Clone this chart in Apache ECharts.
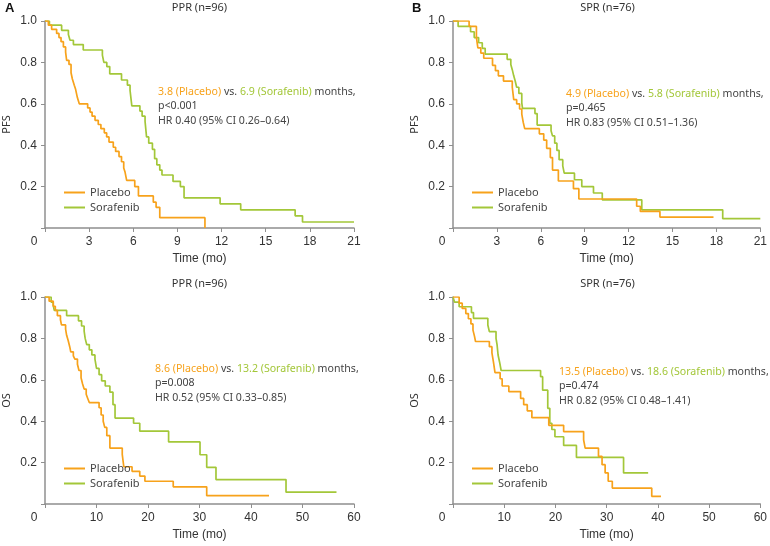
<!DOCTYPE html>
<html>
<head>
<meta charset="utf-8">
<script src="https://cdn.jsdelivr.net/npm/echarts@6/dist/echarts.min.js"></script>
<style>
  html, body { margin: 0; padding: 0; background: #fff; }
  #chart { width: 770px; height: 546px; }
</style>
</head>
<body>
<div id="chart"></div>
<script>
// ---------- Data ----------
// Panel A top: PFS, PPR (n=96)
const pfsPprPlaceboT = [0, 0.23, 0.45, 0.79, 0.95, 1.09, 1.25, 1.40, 1.47, 1.63, 1.77, 1.86, 1.99, 2.08, 2.2, 2.33, 2.9, 3.06, 3.2, 3.4, 3.62, 3.8, 4.03, 4.19, 4.35, 4.64, 4.8, 5.03, 5.2, 5.35, 5.44, 5.55, 6.1, 6.35, 7.36, 7.55, 7.8, 10.87];
const pfsPprPlaceboS = [1, 0.98, 0.96, 0.94, 0.92, 0.90, 0.875, 0.85, 0.81, 0.79, 0.75, 0.72, 0.69, 0.67, 0.63, 0.60, 0.58, 0.56, 0.54, 0.52, 0.50, 0.48, 0.46, 0.44, 0.415, 0.39, 0.37, 0.345, 0.32, 0.29, 0.27, 0.23, 0.20, 0.155, 0.125, 0.10, 0.05, 0];
const pfsPprSorafenibT = [0, 0.3, 1.13, 1.59, 1.7, 1.93, 2.6, 3.9, 4.0, 4.2, 4.4, 5.2, 5.6, 5.78, 5.9, 6.45, 6.6, 6.8, 6.9, 7.05, 7.3, 7.45, 7.6, 7.8, 7.95, 8.7, 9.2, 9.45, 11.9, 13.3, 17.0, 17.5, 21];
const pfsPprSorafenibS = [1, 0.98, 0.955, 0.935, 0.907, 0.886, 0.86, 0.835, 0.80, 0.78, 0.745, 0.715, 0.69, 0.665, 0.59, 0.565, 0.54, 0.515, 0.44, 0.41, 0.38, 0.335, 0.305, 0.28, 0.256, 0.225, 0.2, 0.146, 0.117, 0.088, 0.059, 0.029, 0.029];

// Panel B top: PFS, SPR (n=76)
const pfsSprPlaceboT = [0, 1.1, 1.6, 1.7, 1.9, 2.1, 2.7, 2.9, 3.1, 3.45, 4.05, 4.15, 4.35, 4.55, 4.7, 4.8, 4.9, 5.9, 6.2, 6.4, 6.65, 6.8, 7.2, 8.23, 8.6, 12.55, 12.8, 14.14, 17.8];
const pfsSprPlaceboS = [1, 0.974, 0.92, 0.87, 0.845, 0.82, 0.786, 0.76, 0.735, 0.71, 0.68, 0.62, 0.60, 0.575, 0.55, 0.51, 0.48, 0.455, 0.425, 0.385, 0.34, 0.28, 0.227, 0.19, 0.14, 0.105, 0.08, 0.053, 0.053];
const pfsSprSorafenibT = [0, 0.35, 1.2, 1.45, 1.75, 2.0, 2.2, 3.7, 3.95, 4.05, 4.15, 4.25, 4.35, 4.5, 4.7, 4.75, 5.6, 5.75, 6.7, 6.8, 6.95, 7.1, 7.25, 7.5, 7.6, 8.3, 8.8, 9.6, 10.2, 12.9, 18.43, 21];
const pfsSprSorafenibS = [1, 0.974, 0.948, 0.92, 0.895, 0.868, 0.84, 0.815, 0.79, 0.765, 0.735, 0.71, 0.68, 0.65, 0.605, 0.578, 0.553, 0.497, 0.47, 0.445, 0.41, 0.375, 0.33, 0.30, 0.265, 0.233, 0.2, 0.169, 0.136, 0.088, 0.045, 0.045];

// Panel A bottom: OS, PPR (n=96)
const osPprPlaceboT = [0, 0.8, 1.6, 2.0, 2.4, 3.0, 3.2, 4.0, 4.2, 4.5, 4.8, 5.0, 5.5, 5.8, 6.3, 6.6, 7.0, 7.3, 7.6, 8.0, 8.3, 8.6, 10.5, 10.9, 11.3, 11.6, 12.0, 12.6, 15.0, 15.3, 16.9, 18.4, 19.4, 24.9, 31.4, 43.5];
const osPprPlaceboS = [1, 0.98, 0.955, 0.935, 0.91, 0.89, 0.865, 0.845, 0.815, 0.79, 0.76, 0.735, 0.715, 0.70, 0.675, 0.645, 0.61, 0.58, 0.555, 0.53, 0.51, 0.49, 0.465, 0.43, 0.40, 0.37, 0.33, 0.27, 0.24, 0.18, 0.158, 0.135, 0.11, 0.083, 0.04, 0.04];
const osPprSorafenibT = [0, 1.2, 1.6, 1.8, 4.2, 6.5, 7.1, 7.6, 7.8, 8.1, 8.6, 9.1, 9.7, 10.0, 10.5, 11.0, 11.7, 12.6, 13.2, 13.6, 17.2, 18.4, 24.0, 30.1, 31.4, 33.2, 46.8, 56.6];
const osPprSorafenibS = [1, 0.975, 0.96, 0.935, 0.91, 0.885, 0.86, 0.835, 0.80, 0.77, 0.745, 0.72, 0.70, 0.655, 0.625, 0.595, 0.57, 0.54, 0.48, 0.415, 0.39, 0.352, 0.30, 0.238, 0.177, 0.118, 0.057, 0.057];

// Panel B bottom: OS, SPR (n=76)
const osSprPlaceboT = [0, 1.2, 1.8, 2.5, 3.0, 3.5, 3.9, 4.2, 4.4, 7.1, 7.6, 7.9, 8.2, 9.2, 9.6, 10.9, 13.2, 13.8, 14.5, 15.4, 18.7, 21.6, 25.5, 25.8, 28.4, 29.1, 29.7, 30.3, 31.1, 38.8, 40.6];
const osSprPlaceboS = [1, 0.97, 0.945, 0.92, 0.895, 0.87, 0.84, 0.81, 0.785, 0.76, 0.73, 0.685, 0.635, 0.605, 0.57, 0.543, 0.51, 0.48, 0.45, 0.417, 0.38, 0.35, 0.31, 0.27, 0.23, 0.19, 0.15, 0.11, 0.077, 0.037, 0.037];
const osSprSorafenibT = [0, 0.3, 1.2, 3.6, 4.0, 6.8, 7.1, 8.4, 8.6, 8.8, 9.1, 9.4, 17.1, 17.5, 18.5, 18.9, 19.3, 19.9, 21.6, 24.1, 33.3, 38.1];
const osSprSorafenibS = [1, 0.975, 0.953, 0.925, 0.897, 0.865, 0.833, 0.80, 0.77, 0.72, 0.685, 0.645, 0.615, 0.55, 0.462, 0.39, 0.36, 0.325, 0.283, 0.225, 0.15, 0.15];

// Axis ticks
const pfsTimeTicks = { min: 0, max: 21, interval: 3 };
const osTimeTicks = { min: 0, max: 60, interval: 10 };
const survivalTicks = { min: 0, max: 1, interval: 0.2 };

// Texts
const panelTitles = ['PPR (n=96)', 'SPR (n=76)', 'PPR (n=96)', 'SPR (n=76)'];
const yNames = ['PFS', 'PFS', 'OS', 'OS'];
const medianPlacebo = ['3.8 (Placebo)', '4.9 (Placebo)', '8.6 (Placebo)', '13.5 (Placebo)'];
const medianSorafenib = ['6.9 (Sorafenib)', '5.8 (Sorafenib)', '13.2 (Sorafenib)', '18.6 (Sorafenib)'];
const pValues = ['p<0.001', 'p=0.465', 'p=0.008', 'p=0.474'];
const hrTexts = ['HR 0.40 (95% CI 0.26\u20130.64)', 'HR 0.83 (95% CI 0.51\u20131.36)', 'HR 0.52 (95% CI 0.33\u20130.85)', 'HR 0.82 (95% CI 0.48\u20131.41)'];
const seriesNames = ['Placebo', 'Sorafenib'];

// ---------- Chart ----------
const ORANGE = '#F7A21B';
const GREEN = '#A3C739';
const AXIS = '#8f8f8f';
const TXT = '#333';
const SANS = 'Liberation Sans, Arial, sans-serif';
const NOTO = 'Noto Sans, sans-serif';
const ANN = 10.6;

function pts(T, S) { return T.map((t, i) => [t, S[i]]); }

const grids = [
  { left: 45, top: 21, width: 309, height: 207 },
  { left: 453, top: 21, width: 309, height: 207 },
  { left: 45, top: 297, width: 309, height: 207 },
  { left: 453, top: 297, width: 309, height: 207 }
];

const xTicks = [pfsTimeTicks, pfsTimeTicks, osTimeTicks, osTimeTicks];
const xAxes = grids.map((g, i) => ({
  gridIndex: i, type: 'value',
  min: xTicks[i].min, max: xTicks[i].max, interval: xTicks[i].interval,
  axisLine: { show: true, onZero: false, lineStyle: { color: AXIS, width: 1.5 } },
  axisTick: { show: true, length: 4, lineStyle: { color: AXIS, width: 1 } },
  axisLabel: { color: TXT, fontSize: 12, fontFamily: SANS, margin: 8,
    formatter: v => (v === 0 ? '' : String(v)) },
  splitLine: { show: false },
  name: 'Time (mo)', nameLocation: 'middle', nameGap: 25,
  nameTextStyle: { color: TXT, fontSize: 12, fontFamily: SANS }
}));

const yAxes = grids.map((g, i) => ({
  gridIndex: i, type: 'value',
  min: survivalTicks.min, max: survivalTicks.max, interval: survivalTicks.interval,
  axisLine: { show: true, onZero: false, lineStyle: { color: AXIS, width: 1.5 } },
  axisTick: { show: true, length: 4, lineStyle: { color: AXIS, width: 1 } },
  axisLabel: { color: TXT, fontSize: 12, fontFamily: SANS, margin: 8,
    formatter: v => (v === 0 ? '' : v.toFixed(1)) },
  splitLine: { show: false },
  name: yNames[i], nameLocation: 'middle', nameGap: 33, nameRotate: 90,
  nameTextStyle: { color: TXT, fontSize: 11, fontFamily: NOTO }
}));

const curves = [
  [pts(pfsPprPlaceboT, pfsPprPlaceboS), pts(pfsPprSorafenibT, pfsPprSorafenibS)],
  [pts(pfsSprPlaceboT, pfsSprPlaceboS), pts(pfsSprSorafenibT, pfsSprSorafenibS)],
  [pts(osPprPlaceboT, osPprPlaceboS), pts(osPprSorafenibT, osPprSorafenibS)],
  [pts(osSprPlaceboT, osSprPlaceboS), pts(osSprSorafenibT, osSprSorafenibS)]
];

const series = [];
curves.forEach((pair, i) => {
  series.push({
    type: 'line', name: seriesNames[1], xAxisIndex: i, yAxisIndex: i, step: 'end',
    data: pair[1], symbol: 'none', showSymbol: false,
    lineStyle: { color: GREEN, width: 1.7 }, itemStyle: { color: GREEN }, z: 2
  });
  series.push({
    type: 'line', name: seriesNames[0], xAxisIndex: i, yAxisIndex: i, step: 'end',
    data: pair[0], symbol: 'none', showSymbol: false,
    lineStyle: { color: ORANGE, width: 1.7 }, itemStyle: { color: ORANGE }, z: 3
  });
});

const legends = grids.map(g => ({
  left: g.left + 14, top: g.top + g.height - 46, orient: 'vertical',
  data: seriesNames, icon: 'rect', itemWidth: 21, itemHeight: 2, itemGap: 4,
  selectedMode: false,
  textStyle: { color: '#444', fontSize: 11, fontFamily: NOTO }
}));

const graphic = [];
// panel letters
graphic.push({ type: 'text', x: 5, y: 8, style: { text: 'A', fill: '#111', font: 'bold 13px ' + SANS, verticalAlign: 'middle' } });
graphic.push({ type: 'text', x: 412, y: 8, style: { text: 'B', fill: '#111', font: 'bold 13px ' + SANS, verticalAlign: 'middle' } });
// titles, origin "0", annotations
const annotPos = [[158, 92], [566, 94], [155, 369], [559, 372]];
grids.forEach((g, i) => {
  graphic.push({ type: 'text', x: g.left + g.width / 2, y: g.top - 13,
    style: { text: panelTitles[i], fill: TXT, font: '11px ' + NOTO, align: 'center', verticalAlign: 'middle' } });
  graphic.push({ type: 'text', x: g.left - 11, y: g.top + g.height + 14,
    style: { text: '0', fill: TXT, font: '12px ' + SANS, align: 'center', verticalAlign: 'middle' } });
  const [ax, ay] = annotPos[i];
  graphic.push({ type: 'text', x: ax, y: ay,
    style: {
      text: '{o|' + medianPlacebo[i] + '} vs. {g|' + medianSorafenib[i] + '} months,',
      fill: '#444', font: ANN + 'px ' + NOTO, align: 'left', verticalAlign: 'middle',
      rich: {
        o: { fill: ORANGE, fontSize: ANN, fontFamily: NOTO },
        g: { fill: GREEN, fontSize: ANN, fontFamily: NOTO }
      }
    } });
  graphic.push({ type: 'text', x: ax, y: ay + 14.3,
    style: { text: pValues[i], fill: '#444', font: ANN + 'px ' + NOTO, align: 'left', verticalAlign: 'middle' } });
  graphic.push({ type: 'text', x: ax, y: ay + 28.6,
    style: { text: hrTexts[i], fill: '#444', font: ANN + 'px ' + NOTO, align: 'left', verticalAlign: 'middle' } });
});

const chart = echarts.init(document.getElementById('chart'), null, { renderer: 'canvas' });
chart.setOption({
  animation: false,
  backgroundColor: '#fff',
  grid: grids,
  xAxis: xAxes,
  yAxis: yAxes,
  legend: legends,
  series: series,
  graphic: graphic
});
</script>
</body>
</html>
